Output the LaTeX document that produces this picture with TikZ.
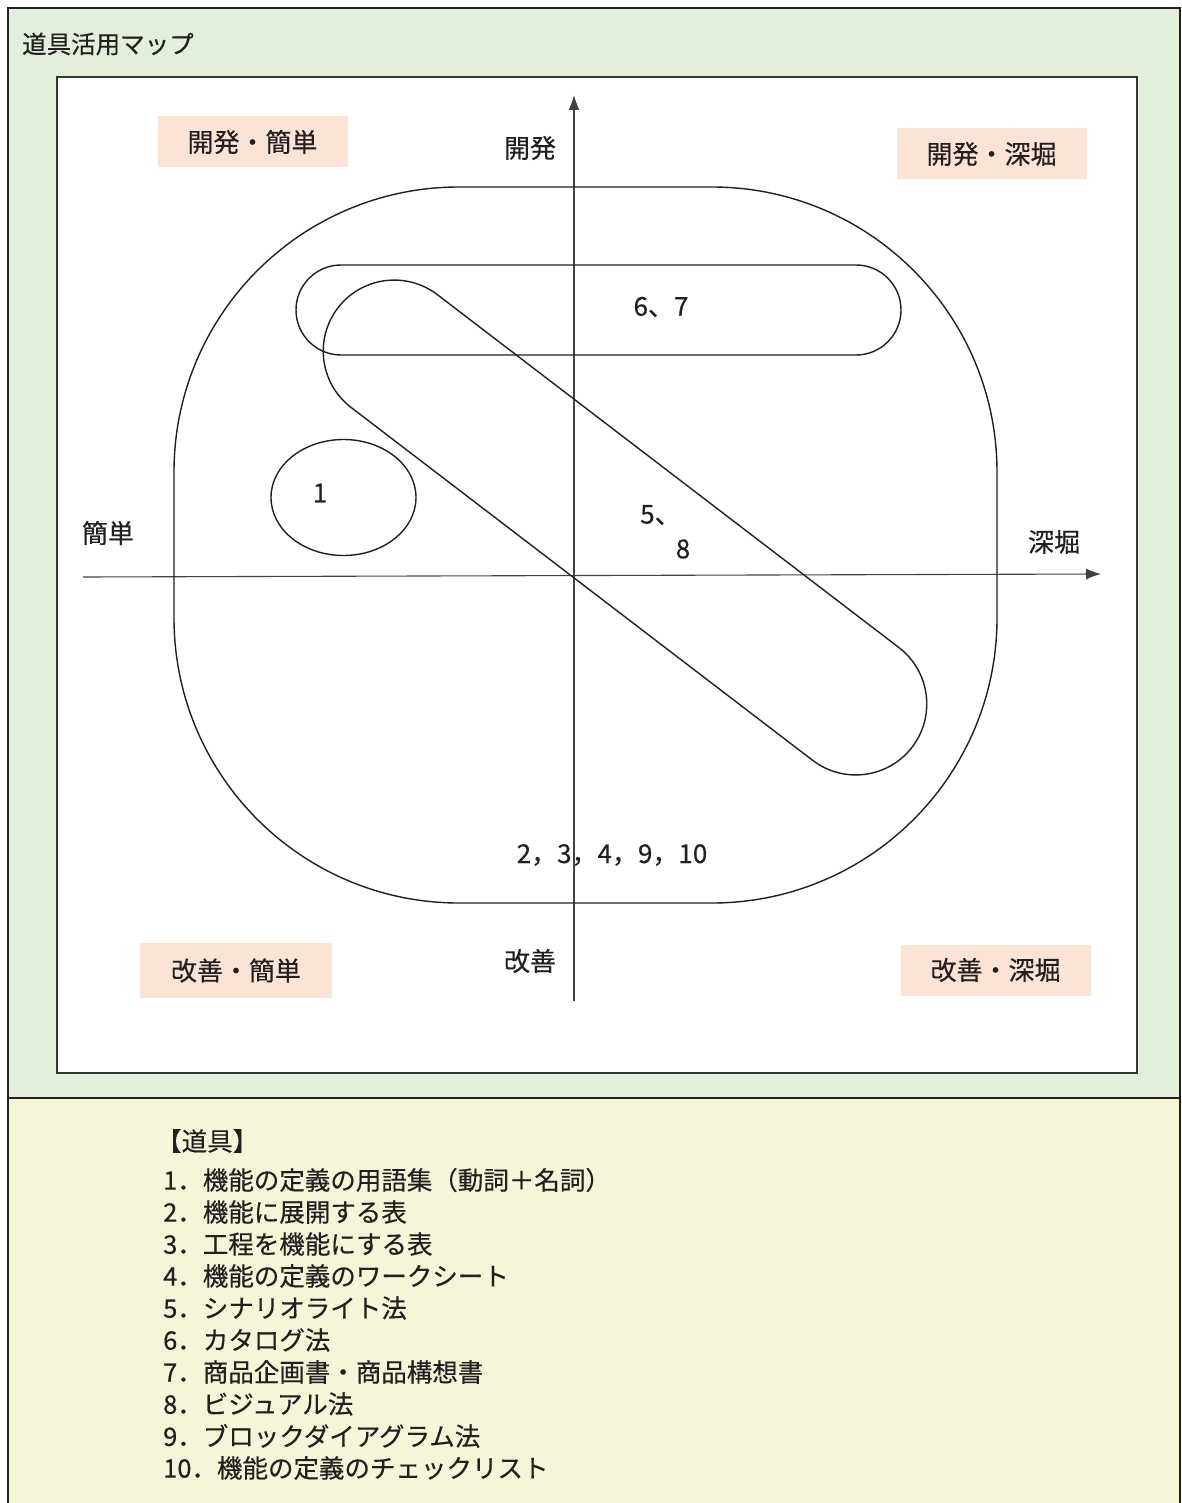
\documentclass[tikz,border=0pt]{standalone}
\usepackage{fontspec}
\setmainfont{Noto Sans CJK JP}[FakeBold=0.35]
\usetikzlibrary{arrows.meta,shapes.geometric}
\definecolor{bggreen}{RGB}{226,239,218}
\definecolor{bgyellow}{RGB}{245,245,215}
\definecolor{pinkbox}{RGB}{251,228,213}
\definecolor{ink}{RGB}{35,31,32}
\begin{document}
\begin{tikzpicture}[x=1pt,y=-1pt,
  txt/.style={text=ink,inner sep=0pt,font=\fontsize{26}{30}\selectfont},
  quad/.style={txt,fill=pinkbox,minimum width=190pt,minimum height=51pt},
  leg/.style={text=ink,inner sep=0pt,anchor=west,font=\fontsize{25.5}{30}\selectfont},
  shape line/.style={draw=ink,line width=1.4pt},
  axis/.style={draw=ink!85,line width=1.1pt,-{Latex[length=15pt,width=11pt]}}]
\useasboundingbox (0,0) rectangle (1182,1503);
% backgrounds
\fill[bggreen] (8,8) rectangle (1180,1098);
\fill[bgyellow] (8,1098) rectangle (1180,1503);
\draw[ink,line width=2.5pt] (8,1503) -- (8,8) -- (1180,8) -- (1180,1503);
\draw[ink,line width=2.5pt] (8,1098) -- (1180,1098);
% title
\node[txt,anchor=west,font=\fontsize{24.5}{30}\selectfont] (title) at (22,44) {道具活用マップ};
% inner white panel
\draw[fill=white,draw=ink!90,line width=2.5pt] (57,77) rectangle (1137,1073);
% quadrant labels
\node[quad] (q1) at (252.5,142) {開発・簡単};
\node[quad] (q2) at (991.5,154) {開発・深堀};
\node[quad,minimum width=192pt,minimum height=55pt] (q3) at (236,970.5) {改善・簡単};
\node[quad] (q4) at (995.5,970) {改善・深堀};
% axes
\coordinate (vb) at (574,1001);
\coordinate (vt) at (574,95);
\coordinate (hl) at (83,577);
\coordinate (hr) at (1101,574);
\draw[axis] (vb) -- (vt);
\draw[axis] (hl) -- (hr);
\node[txt] (dev) at (530,148) {開発};
\node[txt] (imp) at (530,961) {改善};
\node[txt] (easy) at (108,533) {簡単};
\node[txt] (deep) at (1054,542) {深堀};
% big rounded region
\draw[shape line,rounded corners=285pt] (174,187) rectangle (997,903);
% 6,7 band
\draw[shape line,rounded corners=45pt] (296,265) rectangle (901,355);
% diagonal stadium 5,8
\node[shape line,rectangle,rounded corners=71pt,minimum width=723pt,minimum height=142pt,rotate=-37.4,inner sep=0pt] (diag) at (625,527.5) {};
% ellipse 1
\node[shape line,ellipse,minimum width=145pt,minimum height=116pt,inner sep=0pt] (e1) at (343.5,497.5) {};
% numbers
\node[txt] (n1) at (320,493) {1};
\node[txt] (n67) at (661,307) {6、7};
\node[txt,anchor=west] (n5) at (640,515) {5、};
\node[txt] (n8) at (683,549) {8};
\node[txt] (nlow) at (612,855) {2，3，4，9，10};
% legend
\node[leg] (lh) at (156,1141) {【道具】};
\node[leg] (l1) at (163,1180) {1．機能の定義の用語集（動詞＋名詞）};
\node[leg] (l2) at (163,1212) {2．機能に展開する表};
\node[leg] (l3) at (163,1244) {3．工程を機能にする表};
\node[leg] (l4) at (163,1276) {4．機能の定義のワークシート};
\node[leg] (l5) at (163,1308) {5．シナリオライト法};
\node[leg] (l6) at (163,1340) {6．カタログ法};
\node[leg] (l7) at (163,1372) {7．商品企画書・商品構想書};
\node[leg] (l8) at (163,1404) {8．ビジュアル法};
\node[leg] (l9) at (163,1436) {9．ブロックダイアグラム法};
\node[leg] (l10) at (163,1468) {10．機能の定義のチェックリスト};
\end{tikzpicture}
\end{document}
